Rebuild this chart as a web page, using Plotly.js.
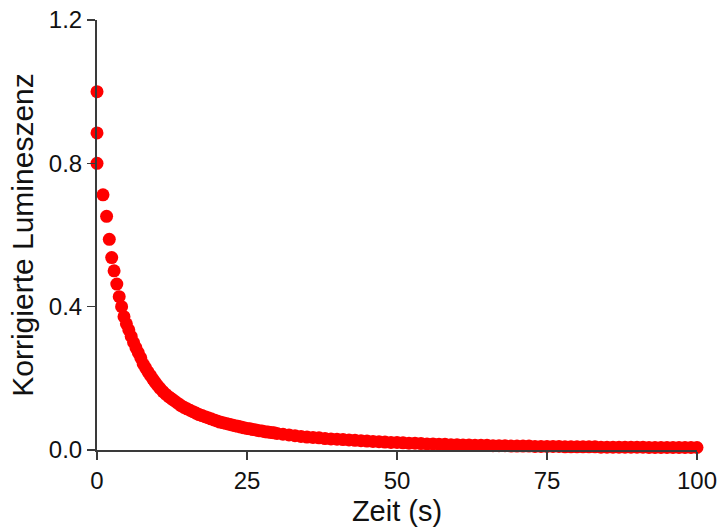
<!DOCTYPE html>
<html>
<head>
<meta charset="utf-8">
<script src="https://cdn.plot.ly/plotly-3.0.1.min.js"></script>
<style>
html,body{margin:0;padding:0;background:#fff;}
#chart{width:717px;height:530px;}
</style>
</head>
<body>
<div id="chart"></div>
<script>
const xTitle = "Zeit (s)";
const yTitle = "Korrigierte Lumineszenz";
const xTicks = [0, 25, 50, 75, 100];
const yTicks = [0.0, 0.4, 0.8, 1.2];

const time = [
  0, 0, 0, 1.0, 1.6, 2.05, 2.45, 2.85, 3.3, 3.7, 4.1, 4.5,
  4.9, 5.3, 5.7, 6.1, 6.5, 6.9, 7.3, 7.7, 8.1, 8.5, 8.9, 9.3, 9.7, 10.1, 10.5,
  11, 11.5, 12, 12.5, 13, 13.5, 14, 14.5, 15, 15.5, 16, 16.5, 17, 17.5, 18, 18.5,
  19, 19.5, 20, 20.5, 21, 21.5, 22, 22.5, 23, 23.5, 24, 24.5, 25, 25.5, 26, 26.5,
  27, 27.5, 28, 28.5, 29, 29.5, 30,
  31, 32, 33, 34, 35, 36, 37, 38, 39, 40, 41, 42, 43, 44, 45, 46, 47, 48, 49, 50,
  51, 52, 53, 54, 55, 56, 57, 58, 59, 60, 61, 62, 63, 64, 65, 66, 67, 68, 69, 70,
  71, 72, 73, 74, 75, 76, 77, 78, 79, 80, 81, 82, 83, 84, 85, 86, 87, 88, 89, 90,
  91, 92, 93, 94, 95, 96, 97, 98, 99, 100
];
const luminescence = [
  1.000, 0.885, 0.800, 0.712, 0.652, 0.588, 0.537, 0.500, 0.463, 0.428, 0.400, 0.372,
  0.352, 0.335, 0.317, 0.300, 0.285, 0.271, 0.257, 0.240, 0.229, 0.218, 0.208, 0.198, 0.189, 0.180, 0.172,
  0.163, 0.155, 0.148, 0.142, 0.136, 0.130, 0.124, 0.119, 0.115, 0.111, 0.107, 0.103, 0.099, 0.096, 0.093, 0.090,
  0.087, 0.084, 0.081, 0.078, 0.076, 0.074, 0.072, 0.070, 0.068, 0.066, 0.064, 0.062, 0.060, 0.059, 0.057, 0.056,
  0.054, 0.053, 0.051, 0.050, 0.049, 0.048, 0.046,
  0.044, 0.042, 0.040, 0.038, 0.036, 0.035, 0.034, 0.032, 0.031, 0.030, 0.029, 0.028, 0.027, 0.026, 0.025, 0.024, 0.023, 0.022, 0.021, 0.021,
  0.020, 0.019, 0.019, 0.018, 0.017, 0.017, 0.016, 0.016, 0.015, 0.015, 0.014, 0.014, 0.013, 0.013, 0.013, 0.012, 0.012, 0.012, 0.011, 0.011,
  0.011, 0.011, 0.010, 0.010, 0.010, 0.010, 0.010, 0.009, 0.009, 0.009, 0.009, 0.009, 0.009, 0.008, 0.008, 0.008, 0.008, 0.008, 0.008, 0.008,
  0.008, 0.007, 0.007, 0.007, 0.007, 0.007, 0.007, 0.007, 0.007, 0.007
];

const trace = {
  x: time,
  y: luminescence,
  type: 'scatter',
  mode: 'markers',
  marker: {color: '#ff0000', size: 13, line: {width: 0}},
  cliponaxis: false,
  hoverinfo: 'x+y'
};

const fontFamily = 'Liberation Sans, Arial, sans-serif';

const axisCommon = {
  showgrid: false,
  zeroline: false,
  showline: true,
  linecolor: '#3a3a3a',
  linewidth: 2,
  ticks: 'outside',
  ticklen: 8,
  tickwidth: 1.5,
  tickcolor: '#3a3a3a',
  ticklabeloverflow: 'allow',
  tickfont: {family: fontFamily, size: 24, color: '#111'}
};

const layout = {
  width: 717,
  height: 530,
  margin: {l: 97, r: 20, t: 20, b: 80},
  paper_bgcolor: '#ffffff',
  plot_bgcolor: '#ffffff',
  showlegend: false,
  xaxis: Object.assign({}, axisCommon, {
    range: [0, 100],
    tickmode: 'array',
    tickvals: xTicks,
    ticktext: xTicks.map(String),
    title: {text: xTitle, font: {family: fontFamily, size: 29, color: '#111'}, standoff: 8}
  }),
  yaxis: Object.assign({}, axisCommon, {
    range: [0, 1.2],
    tickmode: 'array',
    tickvals: yTicks,
    ticktext: yTicks.map(v => v.toFixed(1)),
    title: {text: yTitle, font: {family: fontFamily, size: 30, color: '#111'}, standoff: 6}
  })
};

Plotly.newPlot('chart', [trace], layout, {displayModeBar: false, staticPlot: true});
</script>
</body>
</html>
